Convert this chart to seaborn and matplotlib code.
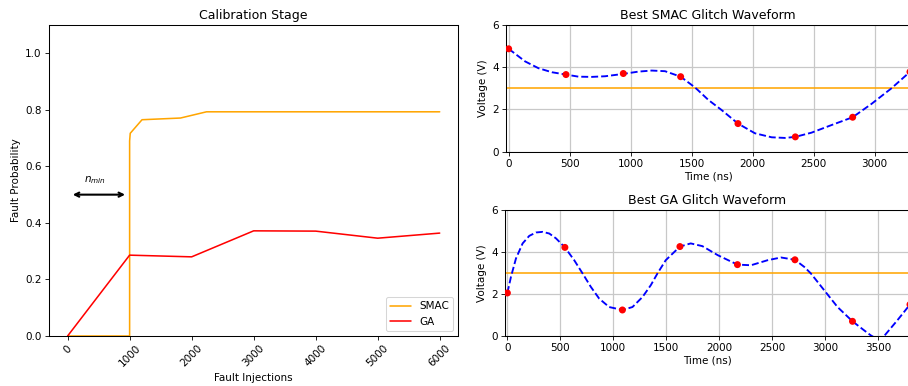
import numpy as np
import pandas as pd
import matplotlib
matplotlib.use("Agg")
import matplotlib.pyplot as plt
import seaborn as sns

# Calibration stage (fault probability vs number of injections)
smac_inj = [0, 1000, 1000, 1010, 1200, 1820, 2240, 3000, 4000, 5000, 6000]
smac_prob = [0.0, 0.0, 0.69, 0.717, 0.765, 0.771, 0.793, 0.793, 0.793, 0.793, 0.793]
ga_inj = [0, 1000, 2000, 3000, 4000, 5000, 6000]
ga_prob = [0.0, 0.286, 0.280, 0.372, 0.371, 0.346, 0.364]

# Best SMAC waveform: control points and the curve
smac_pt_t = [0, 470, 940, 1410, 1880, 2350, 2820, 3290]
smac_pt_v = [4.87, 3.65, 3.70, 3.55, 1.33, 0.70, 1.63, 3.78]
smac_curve_t = [0, 136, 245, 355, 470, 573, 682, 791, 938, 1064, 1173, 1282,
                1410, 1500, 1541, 1637, 1746, 1880, 2019, 2156, 2265, 2350,
                2483, 2647, 2820, 2974, 3138, 3290]
smac_curve_v = [4.87, 4.27, 3.95, 3.76, 3.65, 3.55, 3.54, 3.57, 3.68, 3.79, 3.84, 3.81,
                3.55, 3.16, 2.97, 2.45, 1.97, 1.33, 0.87, 0.68, 0.65, 0.70,
                0.90, 1.26, 1.63, 2.26, 3.00, 3.78]

# Best GA waveform
ga_pt_t = [0, 543, 1086, 1629, 2172, 2715, 3258, 3801]
ga_pt_v = [2.05, 4.22, 1.24, 4.26, 3.40, 3.63, 0.70, 1.50]
ga_curve_t = [0, 34, 81, 144, 207, 270, 333, 396, 459, 543, 631, 710, 788, 867,
              961, 1086, 1181, 1276, 1354, 1417, 1495, 1629, 1731, 1841, 1986,
              2172, 2300, 2457, 2583, 2715, 2803, 2865, 2991, 3117, 3258, 3368,
              3431, 3510, 3557, 3682, 3801]
ga_curve_v = [2.05, 2.82, 3.69, 4.41, 4.77, 4.93, 4.96, 4.88, 4.65, 4.22, 3.61, 2.98,
              2.34, 1.78, 1.38, 1.24, 1.38, 1.86, 2.42, 2.98, 3.61, 4.26, 4.41, 4.28,
              3.85, 3.40, 3.37, 3.61, 3.74, 3.63, 3.29, 2.98, 2.18, 1.38, 0.70, 0.27,
              0.03, -0.20, 0.0, 0.75, 1.50]

threshold = 3.0

sns.set_style("white", {"axes.edgecolor": "black", "xtick.bottom": True, "ytick.left": True,
                        "text.color": "black", "axes.labelcolor": "black",
                        "xtick.color": "black", "ytick.color": "black"})
plt.rcParams["font.family"] = ["DejaVu Sans"]
plt.rcParams["font.size"] = 10
plt.rcParams["axes.linewidth"] = 1.0

DPI = 75
fig = plt.figure(figsize=(909 / DPI, 386 / DPI), dpi=DPI)
ax_cal = fig.add_axes([0.0539, 0.1295, 0.4503, 0.8057])
ax_smac = fig.add_axes([0.5566, 0.6071, 0.4445, 0.3283])
ax_ga = fig.add_axes([0.5556, 0.1295, 0.4455, 0.3264])

# --- calibration stage
sns.lineplot(x=smac_inj, y=smac_prob, ax=ax_cal, color="orange", label="SMAC",
             estimator=None, sort=False, linewidth=1.5)
sns.lineplot(x=ga_inj, y=ga_prob, ax=ax_cal, color="red", label="GA",
             estimator=None, sort=False, linewidth=1.5)
ax_cal.set_ylim(0, 1.1)
ax_cal.set_xlim(-300, 6300)
ax_cal.set_xticks(range(0, 7000, 1000))
ax_cal.set_yticks([0.0, 0.2, 0.4, 0.6, 0.8, 1.0])
ax_cal.tick_params(axis="x", labelrotation=45, labelsize=10, length=3.5)
ax_cal.tick_params(axis="y", labelsize=10, length=3.5)
ax_cal.set_xlabel("Fault Injections", fontsize=10)
ax_cal.set_ylabel("Fault Probability", fontsize=10)
ax_cal.set_title("Calibration Stage", fontsize=12)
ax_cal.annotate("", xy=(960, 0.5), xytext=(50, 0.5),
                arrowprops=dict(arrowstyle="<->", color="black", lw=2))
ax_cal.text(440, 0.53, r"$n_{min}$", ha="center", va="bottom", fontsize=10)
ax_cal.legend(loc="lower right", fontsize=10, frameon=True, fancybox=True,
              edgecolor="#cccccc")


def waveform(ax, ct, cv, pt, pv, title, xmax, xticks):
    ax.grid(True, color="#c8c8c8", linewidth=1.2)
    ax.set_axisbelow(True)
    ax.axhline(threshold, color="orange", linewidth=1.5, zorder=2)
    sns.lineplot(x=ct, y=cv, ax=ax, color="blue", linestyle="--", linewidth=1.8,
                 estimator=None, sort=False, zorder=3)
    sns.scatterplot(x=pt, y=pv, ax=ax, color="red", s=45, edgecolor="none",
                    zorder=4, clip_on=True)
    ax.set_xlim(-22, xmax)
    ax.set_ylim(0, 6)
    ax.set_xticks(xticks)
    ax.set_yticks([0, 2, 4, 6])
    ax.tick_params(labelsize=10, length=3.5)
    ax.set_xlabel("Time (ns)", fontsize=10, labelpad=2)
    ax.set_ylabel("Voltage (V)", fontsize=10)
    ax.set_title(title, fontsize=12)


waveform(ax_smac, smac_curve_t, smac_curve_v, smac_pt_t, smac_pt_v,
         "Best SMAC Glitch Waveform", 3290, range(0, 3001, 500))
waveform(ax_ga, ga_curve_t, ga_curve_v, ga_pt_t, ga_pt_v,
         "Best GA Glitch Waveform", 3801, range(0, 3501, 500))

fig.savefig("out.png", dpi=DPI)
